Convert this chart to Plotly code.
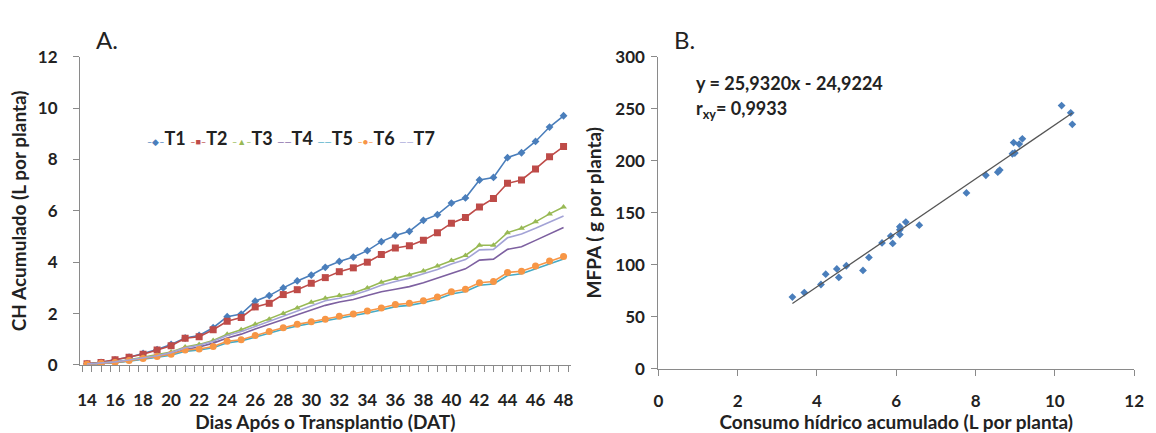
import plotly.graph_objects as go

# ---------------- data ----------------
days = [14, 15, 16, 17, 18, 19, 20, 21, 22, 23, 24, 25, 26, 27, 28, 29, 30, 31, 32, 33, 34,
        35, 36, 37, 38, 39, 40, 41, 42, 43, 44, 45, 46, 47, 48]
t1 = [0.05, 0.1, 0.2, 0.3, 0.45, 0.6, 0.8, 1.05, 1.15, 1.45, 1.88, 1.98, 2.48, 2.7, 3.0, 3.27, 3.5, 3.8,
      4.03, 4.2, 4.45, 4.8, 5.04, 5.2, 5.63, 5.85, 6.3, 6.5, 7.2, 7.3, 8.07, 8.26, 8.7, 9.26, 9.7]
t2 = [0.05, 0.1, 0.2, 0.3, 0.42, 0.58, 0.75, 1.04, 1.1, 1.37, 1.7, 1.85, 2.26, 2.4, 2.74, 2.93, 3.18, 3.4,
      3.63, 3.78, 4.0, 4.3, 4.55, 4.64, 4.85, 5.15, 5.52, 5.74, 6.15, 6.48, 7.07, 7.2, 7.63, 8.1, 8.5]
t3 = [0.04, 0.07, 0.12, 0.2, 0.3, 0.38, 0.5, 0.7, 0.8, 0.95, 1.2, 1.37, 1.58, 1.78, 2.0, 2.22, 2.44, 2.6,
      2.7, 2.8, 3.0, 3.22, 3.37, 3.5, 3.66, 3.85, 4.07, 4.26, 4.66, 4.66, 5.15, 5.32, 5.57, 5.88, 6.15]
t4 = [0.03, 0.06, 0.1, 0.17, 0.25, 0.32, 0.43, 0.6, 0.7, 0.85, 1.05, 1.2, 1.4, 1.58, 1.78, 1.95, 2.15, 2.32,
      2.45, 2.55, 2.7, 2.85, 2.95, 3.05, 3.2, 3.38, 3.56, 3.74, 4.08, 4.12, 4.5, 4.6, 4.85, 5.1, 5.35]
t5 = [0.03, 0.06, 0.09, 0.15, 0.22, 0.3, 0.38, 0.53, 0.58, 0.67, 0.86, 0.93, 1.09, 1.24, 1.39, 1.52, 1.62, 1.72,
      1.83, 1.91, 2.02, 2.14, 2.27, 2.32, 2.42, 2.56, 2.76, 2.86, 3.1, 3.15, 3.48, 3.55, 3.75, 3.95, 4.12]
t6 = [0.03, 0.07, 0.1, 0.17, 0.25, 0.33, 0.42, 0.58, 0.62, 0.72, 0.92, 0.98, 1.15, 1.3, 1.45, 1.58, 1.68, 1.78,
      1.9, 1.98, 2.1, 2.22, 2.35, 2.4, 2.5, 2.65, 2.85, 2.95, 3.2, 3.25, 3.6, 3.65, 3.85, 4.05, 4.22]
t7 = [0.04, 0.07, 0.12, 0.19, 0.28, 0.36, 0.48, 0.67, 0.77, 0.92, 1.15, 1.3, 1.5, 1.7, 1.92, 2.12, 2.33, 2.5,
      2.6, 2.72, 2.9, 3.1, 3.25, 3.38, 3.55, 3.72, 3.93, 4.1, 4.48, 4.5, 4.95, 5.1, 5.32, 5.55, 5.8]
series_names = ["T1", "T2", "T3", "T4", "T5", "T6", "T7"]

consumo = [3.38, 3.68, 4.1, 4.22, 4.5, 4.55, 4.74, 5.16, 5.31, 5.64, 5.86, 5.91, 6.09, 6.09, 6.09,
           6.24, 6.58, 7.77, 8.26, 8.56, 8.61, 8.93, 8.99, 8.96, 9.1, 9.18, 10.17, 10.4, 10.44]
mfpa = [68.9, 73.2, 81, 90.9, 96, 87.8, 99, 94.5, 107, 121, 127.5, 120.5, 136.6, 133.6, 129,
        141, 138, 169, 186, 189, 191, 206.7, 207.4, 217.4, 216, 221, 253, 246, 235]
slope = 25.9320
intercept = -24.9224

y_ticks_a = [0, 2, 4, 6, 8, 10, 12]
x_ticks_a = [14, 16, 18, 20, 22, 24, 26, 28, 30, 32, 34, 36, 38, 40, 42, 44, 46, 48]
y_ticks_b = [0, 50, 100, 150, 200, 250, 300]
x_ticks_b = [0, 2, 4, 6, 8, 10, 12]

# ---------------- figure ----------------
W, H = 1156, 433
FONT = "Lato"
TXT = "#222222"
axis_col = "#8a8a8a"

colors = ["#4a7ebb", "#be4b48", "#98b954", "#7d60a0", "#46aac5", "#f79646", "#a3a3d6"]
symbols = ["diamond", "square", "triangle-up", None, None, "circle", None]
glyphs = ["◆", "■", "▲", "", "", "●", ""]
msizes = [6, 7, 6, 0, 0, 7, 0]
all_series = [t1, t2, t3, t4, t5, t6, t7]

fig = go.Figure()
for name, ys, col, sym, ms in zip(series_names, all_series, colors, symbols, msizes):
    mode = "lines+markers" if sym else "lines"
    marker = dict(symbol=sym, size=ms, color=col) if sym else None
    fig.add_trace(go.Scatter(x=days, y=ys, name=name, mode=mode, showlegend=False,
                             line=dict(color=col, width=1.6), marker=marker,
                             xaxis="x", yaxis="y"))

fig.add_trace(go.Scatter(x=consumo, y=mfpa, mode="markers", showlegend=False,
                         marker=dict(symbol="diamond", size=6, color="#4a7ebb"),
                         xaxis="x2", yaxis="y2"))
x_line = [min(consumo), max(consumo)]
fig.add_trace(go.Scatter(x=x_line, y=[slope * v + intercept for v in x_line], mode="lines",
                         showlegend=False, line=dict(color="#555555", width=1.3),
                         xaxis="x2", yaxis="y2"))

# compact Excel-like legend (text)
parts = []
for name, col, g in zip(series_names, colors, glyphs):
    sym = ("–" + g + "–") if g else "——"
    parts.append('<span style="font-size:9px;color:%s">%s</span><b>%s</b>' % (col, sym, name))
legend_text = " ".join(parts)

tickfont = dict(family=FONT, size=17, color=TXT, weight="bold")
titlefont = dict(family=FONT, size=19, color=TXT, weight="bold")

fig.update_layout(
    width=W, height=H, margin=dict(l=0, r=0, t=0, b=0),
    paper_bgcolor="white", plot_bgcolor="white",
    font=dict(family=FONT, color=TXT),
    showlegend=False,
    xaxis=dict(domain=[76 / W, 573 / W], range=[13.5, 48.5], tickvals=x_ticks_a,
               ticks="", showline=True, linecolor=axis_col, linewidth=1.2,
               showgrid=False, zeroline=False, tickfont=tickfont, ticklabelstandoff=20,
               minor=dict(ticks="outside", tick0=14 - 1 / 3, dtick=2 / 3, ticklen=6,
                          tickcolor=axis_col, showgrid=False),
               title=dict(text="Dias Após o Transplantio (DAT)", font=titlefont, standoff=0),
               anchor="y"),
    yaxis=dict(domain=[(H - 372) / H, (H - 48) / H], range=[0, 12], tickvals=y_ticks_a,
               ticks="outside", ticklen=6, tickcolor=axis_col, showline=True,
               linecolor=axis_col, linewidth=1.2, showgrid=False, zeroline=False,
               tickfont=tickfont, ticklabelstandoff=12,
               title=dict(text="CH Acumulado (L por planta)", font=titlefont, standoff=6),
               anchor="x"),
    xaxis2=dict(domain=[662 / W, 1144 / W], range=[0, 12], tickvals=x_ticks_b,
                ticks="outside", ticklen=6, tickcolor=axis_col, showline=True,
                linecolor=axis_col, linewidth=1.2, showgrid=False, zeroline=False,
                tickfont=tickfont, ticklabelstandoff=11,
                title=dict(text="Consumo hídrico acumulado (L por planta)", font=titlefont, standoff=0),
                anchor="y2"),
    yaxis2=dict(domain=[(H - 376) / H, (H - 48) / H], range=[0, 300], tickvals=y_ticks_b,
                ticks="outside", ticklen=6, tickcolor=axis_col, showline=True,
                linecolor=axis_col, linewidth=1.2, showgrid=False, zeroline=False,
                tickfont=tickfont, ticklabelstandoff=3,
                title=dict(text="MFPA ( g por planta)", font=titlefont, standoff=8),
                anchor="x2"),
    annotations=[
        dict(text=legend_text, x=142 / W, y=(H - 133) / H, xref="paper", yref="paper", showarrow=False,
             xanchor="left", yanchor="middle", font=dict(family=FONT, size=18, color=TXT)),
        dict(text="A.", x=90 / W, y=(H - 30) / H, xref="paper", yref="paper", showarrow=False,
             xanchor="left", yanchor="middle", font=dict(family=FONT, size=24, color=TXT)),
        dict(text="B.", x=676 / W, y=(H - 30) / H, xref="paper", yref="paper", showarrow=False,
             xanchor="left", yanchor="middle", font=dict(family=FONT, size=24, color=TXT)),
        dict(text="y = 25,9320x - 24,9224", x=698 / W, y=(H - 76) / H, xref="paper", yref="paper",
             showarrow=False, xanchor="left", yanchor="middle",
             font=dict(family=FONT, size=18, color=TXT, weight="bold")),
        dict(text="r<sub>xy</sub>= 0,9933", x=698 / W, y=(H - 104) / H, xref="paper", yref="paper",
             showarrow=False, xanchor="left", yanchor="middle",
             font=dict(family=FONT, size=18, color=TXT, weight="bold")),
    ],
)

fig.write_html("out.html")
